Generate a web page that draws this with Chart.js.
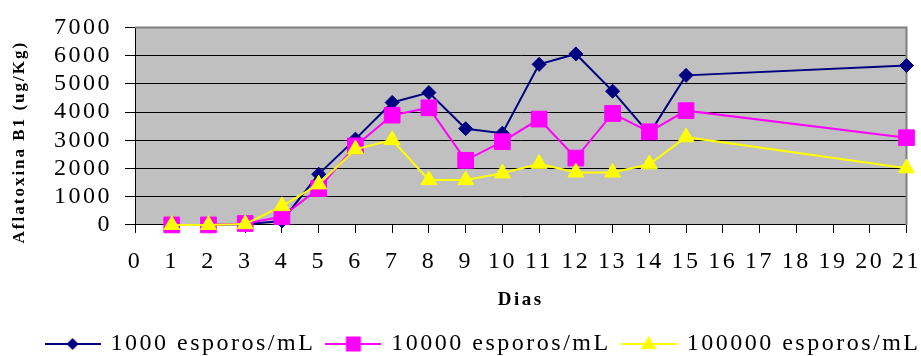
<!DOCTYPE html>
<html>
<head>
<meta charset="utf-8">
<script src="https://cdn.jsdelivr.net/npm/chart.js@4.4.1/dist/chart.umd.min.js"></script>
<style>
  html, body { margin: 0; padding: 0; background: #fff; }
  #wrap { width: 921px; height: 356px; }
</style>
</head>
<body>
<div id="wrap"><canvas id="c" width="921" height="356"></canvas></div>
<script>
// Aflatoxina B1 por dia, para tres concentrações de esporos
const days = [1, 2, 3, 4, 5, 6, 7, 8, 9, 10, 11, 12, 13, 14, 15, 21];
const esporos1000 = [0, 0, 20, 140, 1800, 3040, 4340, 4690, 3410, 3250, 5690, 6060, 4740, 3230, 5300, 5650];
const esporos10000 = [0, 0, 50, 290, 1290, 2800, 3890, 4150, 2290, 2950, 3750, 2370, 3950, 3300, 4050, 3090];
const esporos100000 = [0, 0, 30, 670, 1440, 2680, 3010, 1590, 1590, 1830, 2170, 1860, 1860, 2150, 3110, 2010];
const seriesNames = ['1000 esporos/mL', '10000 esporos/mL', '100000 esporos/mL'];
const xTitle = 'Dias';
const yTitle = 'Aflatoxina B1 (ug/Kg)';
const xMin = 0, xMax = 21, yMin = 0, yMax = 7000, yStep = 1000;

const FONT = '"Liberation Serif", "Times New Roman", serif';
const SPACING = '2.5px';

const pts = vals => days.map((d, i) => ({ x: d, y: vals[i] }));

// legend swatch: short line with the series marker in the middle
function swatch(color, shape) {
  const c = document.createElement('canvas');
  c.width = 56; c.height = 24;
  const g = c.getContext('2d');
  g.strokeStyle = color; g.lineWidth = 2;
  g.beginPath(); g.moveTo(0, 12); g.lineTo(56, 12); g.stroke();
  g.fillStyle = color;
  g.beginPath();
  if (shape === 'diamond') {
    g.moveTo(28, 6); g.lineTo(34, 12); g.lineTo(28, 18); g.lineTo(22, 12);
  } else if (shape === 'square') {
    g.rect(20.5, 4.5, 15, 15);
  } else {
    g.moveTo(28, 4); g.lineTo(36, 17); g.lineTo(20, 17);
  }
  g.closePath(); g.fill();
  return c;
}

const textSpacing = {
  id: 'textSpacing',
  beforeUpdate(chart) { chart.ctx.letterSpacing = SPACING; },
  beforeDraw(chart) { chart.ctx.letterSpacing = SPACING; }
};

// the legend row sits a little right of centre and close to the bottom edge
const legendShift = {
  id: 'legendShift',
  afterLayout(chart) {
    const lg = chart.legend;
    if (lg) { lg.left += 23; lg.right += 23; lg.top += 10; lg.bottom += 10; }
  }
};

const plotFrame = {
  id: 'plotFrame',
  beforeDraw(chart) {
    const { ctx, chartArea: a } = chart;
    ctx.save();
    ctx.fillStyle = '#C0C0C0';
    ctx.fillRect(a.left, a.top, a.right - a.left, a.bottom - a.top);
    ctx.restore();
  },
  beforeDatasetsDraw(chart) {
    const { ctx, chartArea: a } = chart;
    ctx.save();
    ctx.strokeStyle = '#808080';
    ctx.lineWidth = 2;
    ctx.beginPath();
    ctx.moveTo(a.left, a.top);
    ctx.lineTo(a.right, a.top);
    ctx.lineTo(a.right, a.bottom);
    ctx.stroke();
    ctx.restore();
  },
  afterDraw(chart) {
    const { ctx, chartArea: a } = chart;
    ctx.save();
    ctx.letterSpacing = '2px';
    ctx.font = 'bold 17px ' + FONT;
    ctx.fillStyle = '#000';
    ctx.textAlign = 'center';
    ctx.textBaseline = 'middle';
    ctx.translate(a.left - 115, (a.top + a.bottom) / 2 + 16);
    ctx.rotate(-Math.PI / 2);
    ctx.fillText(yTitle, 0, 0);
    ctx.restore();
  }
};

const icons = [swatch('#000080', 'diamond'), swatch('#FF00FF', 'square'), swatch('#FFFF00', 'triangle')];

new Chart(document.getElementById('c'), {
  type: 'line',
  data: {
    datasets: [
      { label: seriesNames[0], data: pts(esporos1000), borderColor: '#000080', backgroundColor: '#000080',
        pointStyle: 'rectRot', pointRadius: 7, pointBorderWidth: 1, borderWidth: 2, order: 2, clip: false },
      { label: seriesNames[1], data: pts(esporos10000), borderColor: '#FF00FF', backgroundColor: '#FF00FF',
        pointStyle: 'rect', pointRadius: 11.1, pointBorderWidth: 1, borderWidth: 2, order: 1, clip: false },
      { label: seriesNames[2], data: pts(esporos100000), borderColor: '#FFFF00', backgroundColor: '#FFFF00',
        pointStyle: 'triangle', pointRadius: 9.2, pointBorderWidth: 1, borderWidth: 2, order: 0, clip: false }
    ]
  },
  options: {
    responsive: false,
    animation: false,
    layout: { padding: { left: 0, right: 0, top: 25, bottom: 0 } },
    elements: { line: { tension: 0 } },
    scales: {
      x: {
        type: 'linear', min: xMin, max: xMax,
        ticks: { stepSize: 1, color: '#000', font: { family: FONT, size: 24, lineHeight: 2.42 }, padding: 0, maxRotation: 0, autoSkip: false },
        grid: { drawOnChartArea: false, tickLength: 8, tickColor: '#000' },
        border: { color: '#000', width: 1 },
        title: { display: true, text: xTitle, color: '#000', font: { family: FONT, size: 19, weight: 'bold', lineHeight: 1 }, padding: { top: 0, bottom: 0 } }
      },
      y: {
        min: yMin, max: yMax,
        ticks: { stepSize: yStep, autoSkip: false, color: '#000', font: { family: FONT, size: 24 }, padding: 13,
          callback: v => String(v) },
        grid: { color: c => (c.tick && c.tick.value === yMax) ? '#808080' : '#000', tickColor: '#000', tickLength: 10, lineWidth: 1 },
        border: { color: '#000', width: 1 },
        afterFit: s => { s.width = 135; }
      }
    },
    plugins: {
      tooltip: { enabled: false },
      legend: {
        position: 'bottom',
        labels: {
          color: '#000', font: { family: FONT, size: 24 }, usePointStyle: true, pointStyleWidth: 52, padding: 12,
          sort: (a, b) => a.datasetIndex - b.datasetIndex,
          generateLabels: chart => Chart.defaults.plugins.legend.labels.generateLabels(chart)
            .map(l => Object.assign(l, { pointStyle: icons[l.datasetIndex] }))
        }
      }
    }
  },
  plugins: [textSpacing, legendShift, plotFrame]
});
</script>
</body>
</html>
